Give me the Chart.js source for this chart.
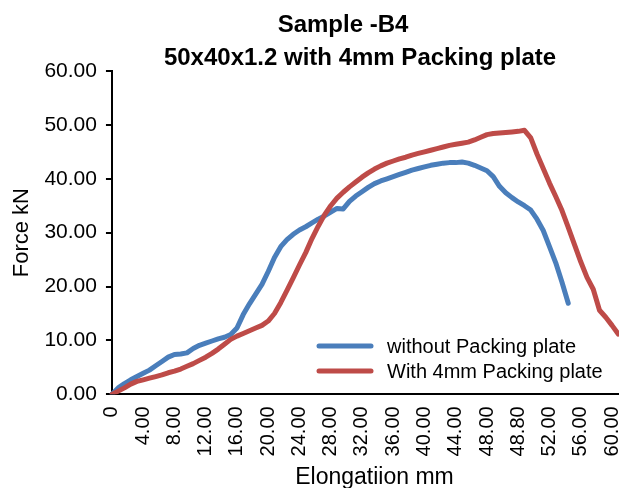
<!DOCTYPE html>
<html>
<head>
<meta charset="utf-8">
<title>Sample -B4</title>
<script src="https://cdn.jsdelivr.net/npm/chart.js@4.4.1/dist/chart.umd.min.js"></script>
<style>
  html, body { margin: 0; padding: 0; background: #fff; overflow: hidden; }
  #wrap { width: 640px; height: 488px; }
</style>
</head>
<body>
<div id="wrap"><canvas id="chart" width="640" height="488"></canvas></div>
<script>
// Elongation categories (mm), one label shown every 5 points
const elongation = [
  0, 0.8, 1.6, 2.4, 3.2, 4.0, 4.8, 5.6, 6.4, 7.2,
  8.0, 8.8, 9.6, 10.4, 11.2, 12.0, 12.8, 13.6, 14.4, 15.2,
  16.0, 16.8, 17.6, 18.4, 19.2, 20.0, 20.8, 21.6, 22.4, 23.2,
  24.0, 24.8, 25.6, 26.4, 27.2, 28.0, 28.8, 29.6, 30.4, 31.2,
  32.0, 32.8, 33.6, 34.4, 35.2, 36.0, 36.8, 37.6, 38.4, 39.2,
  40.0, 40.8, 41.6, 42.4, 43.2, 44.0, 44.8, 45.6, 46.4, 47.2,
  48.0, 48.16, 48.32, 48.48, 48.64, 48.8, 49.44, 50.08, 50.72, 51.36,
  52.0, 52.8, 53.6, 54.4, 55.2, 56.0, 56.8, 57.6, 58.4, 59.2,
  60.0, 60.8, 61.6, 62.4, 63.2
];

// Force kN - without packing plate
const sinPlaca = [
  0, 1.2, 2.0, 2.7, 3.3, 3.9, 4.5, 5.3, 6.1, 6.9,
  7.4, 7.5, 7.7, 8.5, 9.1, 9.5, 9.9, 10.3, 10.6, 11.1,
  12.3, 14.8, 16.8, 18.6, 20.4, 22.8, 25.4, 27.4, 28.7, 29.7,
  30.5, 31.1, 31.8, 32.5, 33.1, 33.8, 34.5, 34.4, 35.8, 36.8,
  37.6, 38.4, 39.1, 39.6, 40.0, 40.4, 40.8, 41.2, 41.6, 41.9,
  42.2, 42.5, 42.7, 42.9, 43.0, 43.0, 43.1, 42.9, 42.5, 42.0,
  41.5, 40.4, 38.6, 37.4, 36.5, 35.7, 35.0, 34.2, 32.5, 30.4,
  27.4, 24.4, 20.8, 16.9
];

// Force kN - with 4mm packing plate
const conPlaca = [
  0, 0.6, 1.2, 1.9, 2.4, 2.7, 3.0, 3.3, 3.6, 4.0,
  4.3, 4.7, 5.2, 5.7, 6.3, 6.9, 7.6, 8.4, 9.3, 10.2,
  10.8, 11.3, 11.8, 12.3, 12.8, 13.6, 15.0, 17.0, 19.3, 21.6,
  24.0, 26.3, 28.9, 31.2, 33.3, 35.0, 36.4, 37.5, 38.5, 39.4,
  40.3, 41.1, 41.8, 42.4, 42.9, 43.3, 43.7, 44.0, 44.4, 44.7,
  45.0, 45.3, 45.6, 45.9, 46.2, 46.4, 46.6, 46.8, 47.2, 47.7,
  48.2, 48.4, 48.5, 48.6, 48.7, 48.8, 49.0, 47.6, 44.6, 41.9,
  39.2, 36.7, 34.1, 31.0, 27.8, 24.6, 21.7, 19.5, 15.6, 14.3,
  12.8, 11.2
];

const titulo = ['Sample -B4', '50x40x1.2 with 4mm Packing plate'];
const nombres = ['without Packing plate', 'With 4mm Packing plate'];
const colores = ['#4A7EBB', '#BE4B48'];
const fuente = "'Liberation Sans', Arial, Helvetica, sans-serif";

// Two-line title, second line a bit off the first like the original
const tituloPlugin = {
  id: 'tituloPlugin',
  afterDraw(chart) {
    const ctx = chart.ctx;
    ctx.save();
    ctx.fillStyle = '#000';
    ctx.font = 'bold 24px ' + fuente;
    ctx.textAlign = 'center';
    ctx.textBaseline = 'alphabetic';
    ctx.fillText(titulo[0], 343, 32);
    ctx.fillText(titulo[1], 360, 65);
    ctx.restore();
  }
};

// Legend drawn inside the plot area, lower right
const leyendaPlugin = {
  id: 'leyendaPlugin',
  afterDraw(chart) {
    const ctx = chart.ctx;
    ctx.save();
    ctx.font = '20px ' + fuente;
    ctx.textBaseline = 'middle';
    ctx.lineCap = 'round';
    ctx.lineWidth = 5;
    chart.data.datasets.forEach((ds, i) => {
      const y = 346 + i * 25;
      ctx.strokeStyle = ds.borderColor;
      ctx.beginPath();
      ctx.moveTo(319, y);
      ctx.lineTo(371, y);
      ctx.stroke();
      ctx.fillStyle = '#000';
      ctx.fillText(ds.label, 387, y + 1);
    });
    ctx.restore();
  }
};

const chart = new Chart(document.getElementById('chart').getContext('2d'), {
  type: 'line',
  data: {
    labels: elongation,
    datasets: [
      { label: nombres[0], data: sinPlaca, borderColor: colores[0], order: 1 },
      { label: nombres[1], data: conPlaca, borderColor: colores[1], order: 0 }
    ]
  },
  options: {
    responsive: false,
    animation: false,
    layout: { padding: { top: 71, left: 9, right: 3, bottom: 0 } },
    elements: {
      point: { radius: 0 },
      line: { borderWidth: 5, borderCapStyle: 'round', borderJoinStyle: 'round', tension: 0 }
    },
    plugins: {
      legend: { display: false },
      title: { display: false },
      tooltip: { enabled: false }
    },
    scales: {
      x: {
        type: 'category',
        offset: false,
        grid: { display: false, drawTicks: false },
        border: { color: '#000', width: 2 },
        ticks: {
          autoSkip: false,
          minRotation: 90,
          maxRotation: 90,
          padding: 12,
          color: '#000',
          font: { family: fuente, size: 20 },
          callback: (v, i) => {
            if (i % 5 !== 0) return '';
            return i === 0 ? '0' : elongation[i].toFixed(2);
          }
        },
        title: {
          display: true,
          text: 'Elongatiion mm',
          color: '#000',
          font: { family: fuente, size: 23 },
          padding: { top: -5, bottom: -3 }
        },
        afterFit: s => { s.paddingRight = 0; }
      },
      y: {
        min: 0,
        max: 60,
        grid: { drawOnChartArea: false, drawTicks: true, tickLength: 6, color: '#000', lineWidth: 2 },
        border: { color: '#000', width: 2 },
        ticks: {
          stepSize: 10,
          padding: 9,
          color: '#000',
          font: { family: fuente, size: 21 },
          callback: v => v.toFixed(2)
        },
        title: {
          display: true,
          text: 'Force kN',
          color: '#000',
          font: { family: fuente, size: 22 },
          padding: { top: 0, bottom: 0 }
        }
      }
    }
  },
  plugins: [tituloPlugin, leyendaPlugin]
});
</script>
</body>
</html>
